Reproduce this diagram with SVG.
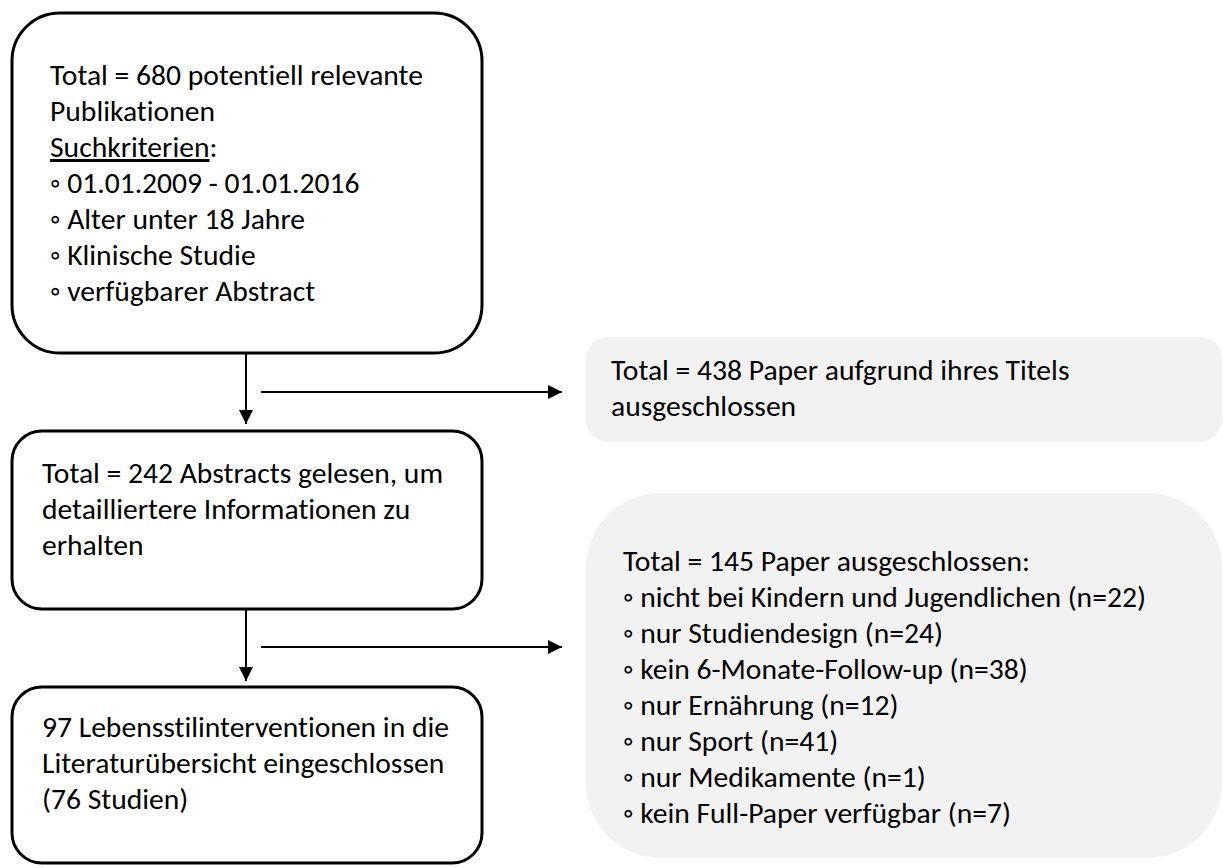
<svg xmlns="http://www.w3.org/2000/svg" width="1223" height="868" viewBox="0 0 1223 868">
<style>
  .box { fill: #ffffff; stroke: #000000; stroke-width: 3; }
  .gray { fill: #f2f2f2; stroke: none; }
  .t { font-family: Carlito, Calibri, Lato, "Open Sans", sans-serif; font-size: 29.6px; fill: #000000; font-variant-ligatures: none; font-feature-settings: "liga" 0, "clig" 0; }
  .conn { stroke: #000000; stroke-width: 2; fill: none; }
</style>
<defs>
  <marker id="arr" markerUnits="userSpaceOnUse" markerWidth="14" markerHeight="14" refX="14" refY="7" orient="auto">
    <path d="M0,0 L14,7 L0,14 z" fill="#000000"/>
  </marker>
</defs>
<rect width="1223" height="868" fill="#ffffff"/>

<g id="node-search">
  <rect class="box" x="12" y="13" width="470" height="340" rx="48" ry="48"/>
  <text class="t" x="50" y="85">Total = 680 potentiell relevante</text>
  <text class="t" x="50" y="121">Publikationen</text>
  <text class="t" x="50" y="157"><tspan text-decoration="underline">Suchkriterien</tspan>:</text>
  <text class="t" x="50" y="193">◦ 01.01.2009 - 01.01.2016</text>
  <text class="t" x="50" y="229">◦ Alter unter 18 Jahre</text>
  <text class="t" x="50" y="265">◦ Klinische Studie</text>
  <text class="t" x="50" y="301">◦ verfügbarer Abstract</text>
</g>

<g id="node-abstracts">
  <rect class="box" x="12" y="431" width="470" height="178" rx="30" ry="30"/>
  <text class="t" x="42" y="483">Total = 242 Abstracts gelesen, um</text>
  <text class="t" x="42" y="519">detailliertere Informationen zu</text>
  <text class="t" x="42" y="555">erhalten</text>
</g>

<g id="node-included">
  <rect class="box" x="12" y="687" width="470" height="176" rx="30" ry="30"/>
  <text class="t" x="42" y="737">97 Lebensstilinterventionen in die</text>
  <text class="t" x="42" y="773">Literaturübersicht eingeschlossen</text>
  <text class="t" x="42" y="809">(76 Studien)</text>
</g>

<g id="node-excluded-title">
  <rect class="gray" x="586" y="337" width="636" height="105" rx="22" ry="22"/>
  <text class="t" x="611" y="380">Total = 438 Paper aufgrund ihres Titels</text>
  <text class="t" x="611" y="416">ausgeschlossen</text>
</g>

<g id="node-excluded-abstract">
  <rect class="gray" x="586" y="493" width="636" height="365" rx="75" ry="75"/>
  <text class="t" x="623" y="571">Total = 145 Paper ausgeschlossen:</text>
  <text class="t" x="623" y="607">◦ nicht bei Kindern und Jugendlichen (n=22)</text>
  <text class="t" x="623" y="643">◦ nur Studiendesign (n=24)</text>
  <text class="t" x="623" y="679">◦ kein 6-Monate-Follow-up (n=38)</text>
  <text class="t" x="623" y="715">◦ nur Ernährung (n=12)</text>
  <text class="t" x="623" y="751">◦ nur Sport (n=41)</text>
  <text class="t" x="623" y="787">◦ nur Medikamente (n=1)</text>
  <text class="t" x="623" y="823">◦ kein Full-Paper verfügbar (n=7)</text>
</g>

<g id="connectors">
  <line class="conn" x1="246" y1="354" x2="246" y2="424" marker-end="url(#arr)"/>
  <line class="conn" x1="261" y1="392" x2="562" y2="392" marker-end="url(#arr)"/>
  <line class="conn" x1="246" y1="610" x2="246" y2="681" marker-end="url(#arr)"/>
  <line class="conn" x1="261" y1="647" x2="562" y2="647" marker-end="url(#arr)"/>
</g>
</svg>
